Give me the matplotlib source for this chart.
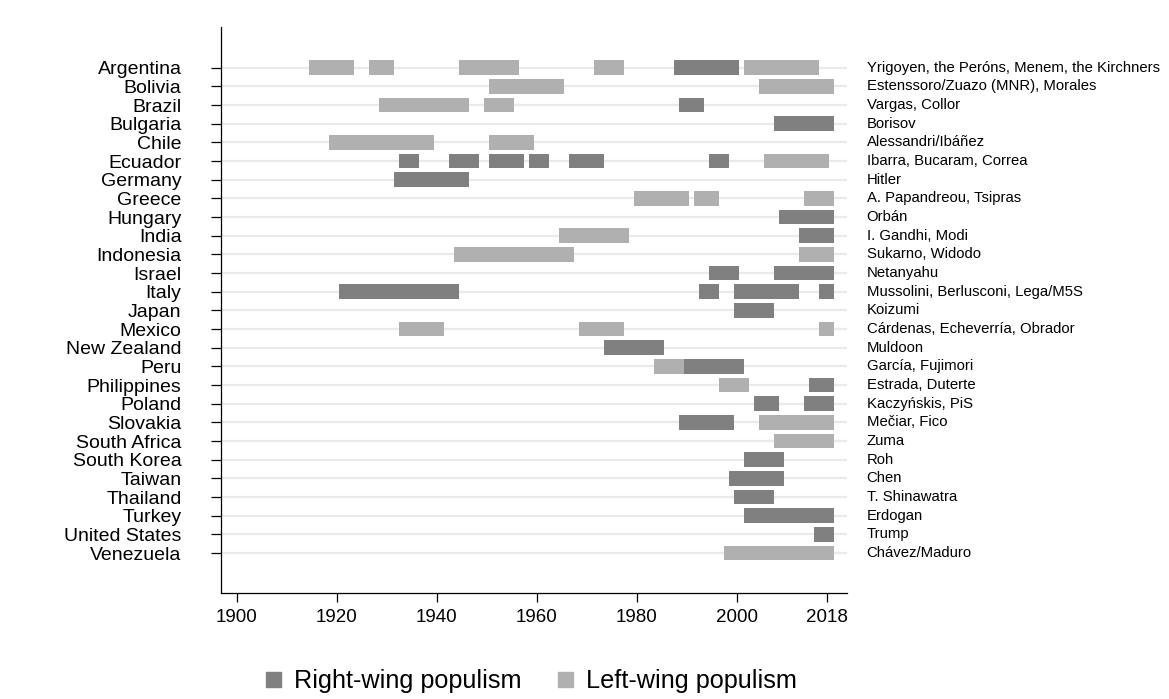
"""Populist governments by country, 1900-2018 (right vs left)."""
import matplotlib
matplotlib.use("Agg")
import matplotlib.pyplot as plt
from matplotlib.lines import Line2D
import matplotlib.transforms as mtransforms

plt.rcParams["font.family"] = ["Liberation Sans", "DejaVu Sans"]

COUNTRIES = ["Argentina", "Bolivia", "Brazil", "Bulgaria", "Chile", "Ecuador", "Germany",
             "Greece", "Hungary", "India", "Indonesia", "Israel", "Italy", "Japan", "Mexico",
             "New Zealand", "Peru", "Philippines", "Poland", "Slovakia", "South Africa",
             "South Korea", "Taiwan", "Thailand", "Turkey", "United States", "Venezuela"]
LEADERS = ["Yrigoyen, the Peróns, Menem, the Kirchners", "Estenssoro/Zuazo (MNR), Morales",
           "Vargas, Collor", "Borisov", "Alessandri/Ibáñez", "Ibarra, Bucaram, Correa", "Hitler",
           "A. Papandreou, Tsipras", "Orbán", "I. Gandhi, Modi", "Sukarno, Widodo", "Netanyahu",
           "Mussolini, Berlusconi, Lega/M5S", "Koizumi", "Cárdenas, Echeverría, Obrador",
           "Muldoon", "García, Fujimori", "Estrada, Duterte", "Kaczyńskis, PiS", "Mečiar, Fico",
           "Zuma", "Roh", "Chen", "T. Shinawatra", "Erdogan", "Trump", "Chávez/Maduro"]

# right-wing spells: country, first year, last year
RIGHT_COUNTRY = ["Argentina", "Brazil", "Bulgaria", "Ecuador", "Ecuador", "Ecuador", "Ecuador",
                 "Ecuador", "Ecuador", "Germany", "Hungary", "India", "Israel", "Israel",
                 "Italy", "Italy", "Italy", "Italy", "Japan", "New Zealand", "Peru",
                 "Philippines", "Poland", "Poland", "Slovakia", "South Korea", "Taiwan",
                 "Thailand", "Turkey", "United States"]
RIGHT_START = [1989, 1990, 2009, 1934, 1944, 1952, 1960, 1968, 1996, 1933, 2010, 2014, 1996, 2009,
               1922, 1994, 2001, 2018, 2001, 1975, 1991, 2016, 2005, 2015, 1990, 2003, 2000,
               2001, 2003, 2017]
RIGHT_END = [1999, 1992, 2018, 1935, 1947, 1956, 1961, 1972, 1997, 1945, 2018, 2018, 1999, 2018,
             1943, 1995, 2011, 2018, 2006, 1984, 2000, 2018, 2007, 2018, 1998, 2008, 2008,
             2006, 2018, 2018]

# left-wing spells
LEFT_COUNTRY = ["Argentina", "Argentina", "Argentina", "Argentina", "Argentina", "Bolivia",
                "Bolivia", "Brazil", "Brazil", "Chile", "Chile", "Ecuador", "Greece", "Greece",
                "Greece", "India", "Indonesia", "Indonesia", "Mexico", "Mexico", "Mexico",
                "Peru", "Philippines", "Slovakia", "South Africa", "Venezuela"]
LEFT_START = [1916, 1928, 1946, 1973, 2003, 1952, 2006, 1930, 1951, 1920, 1952, 2007, 1981, 1993,
              2015, 1966, 1945, 2014, 1934, 1970, 2018, 1985, 1998, 2006, 2009, 1999]
LEFT_END = [1922, 1930, 1955, 1976, 2015, 1964, 2018, 1945, 1954, 1938, 1958, 2017, 1989, 1995,
            2018, 1977, 1966, 2018, 1940, 1976, 2018, 1988, 2001, 2018, 2018, 2018]

XTICKS = [1900, 1920, 1940, 1960, 1980, 2000, 2018]
DARK, LIGHT = "#808080", "#b0b0b0"
PAD = 1.5  # each spell is drawn half a marker wider on both sides

fig = plt.figure(figsize=(11.69, 6.99), dpi=100)
ax = fig.add_axes([0.1888, 0.1517, 0.5355, 0.8097])

row = {c: i for i, c in enumerate(COUNTRIES)}
for cs, ss, es, col in [(LEFT_COUNTRY, LEFT_START, LEFT_END, LIGHT),
                        (RIGHT_COUNTRY, RIGHT_START, RIGHT_END, DARK)]:
    ax.barh([row[c] for c in cs], [e - s + 2 * PAD for s, e in zip(ss, es)],
            left=[s - PAD for s in ss], height=0.8, color=col, linewidth=0, zorder=2)

ax.set_xlim(1896.8, 2022)
ax.set_ylim(len(COUNTRIES) - 1 + 2.14, -2.18)
ax.set_yticks(range(len(COUNTRIES)))
ax.set_yticklabels(COUNTRIES, fontsize=14)
ax.set_xticks(XTICKS)
ax.set_xticklabels([str(x) for x in XTICKS], fontsize=13.5)
ax.tick_params(axis="y", length=7.2, width=0.9, pad=21)
ax.tick_params(axis="x", length=6.5, width=0.9, pad=5)
ax.yaxis.grid(True, color="#eaeaea", lw=1.6, zorder=0)
ax.set_axisbelow(True)
for s in ("top", "right"):
    ax.spines[s].set_visible(False)
for s in ("left", "bottom"):
    ax.spines[s].set_linewidth(0.9)

tr = mtransforms.blended_transform_factory(ax.transAxes, ax.transData)
for i, lab in enumerate(LEADERS):
    ax.text(1.032, i, lab, transform=tr, fontsize=10.7, va="center", ha="left")

handles = [Line2D([], [], ls="", marker="s", ms=10.8, mfc=DARK, mec=DARK),
           Line2D([], [], ls="", marker="s", ms=10.8, mfc=LIGHT, mec=LIGHT)]
fig.legend(handles, ["Right-wing populism", "Left-wing populism"], loc="center",
           bbox_to_anchor=(0.4545, 0.026), ncol=2, frameon=False, fontsize=18.2,
           handlelength=0.6, handletextpad=0.55, columnspacing=1.4)

fig.savefig("out.png", dpi=100)
